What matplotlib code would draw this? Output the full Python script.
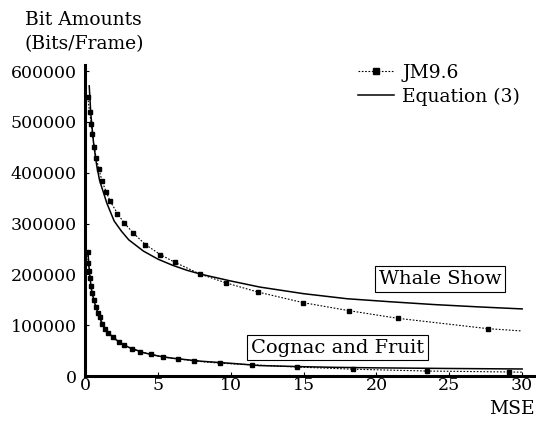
import matplotlib
matplotlib.use("Agg")
import matplotlib.pyplot as plt

# ---- data ----
whale_mse = [0.19, 0.31, 0.43, 0.51, 0.63, 0.77, 0.95, 1.18, 1.46, 1.74, 2.23, 2.69,
             3.31, 4.15, 5.18, 6.16, 7.88, 9.69, 11.84, 14.98, 18.13, 21.45, 27.67, 30.0]
whale_jm = [548600, 520300, 495500, 477000, 451400, 429100, 407500, 382900, 361600,
            343500, 319500, 301200, 281500, 258500, 238800, 223800, 200800, 183100,
            165400, 144300, 128500, 113600, 93100, 88600]

whale_eq_mse = [0.29, 0.4, 0.6, 0.8, 1.0, 1.5, 2.0, 2.5, 3.0, 4.0, 5.0, 6.0, 7.0, 8.0,
                10.0, 12.0, 15.0, 18.0, 21.0, 24.0, 27.0, 30.0]
whale_eq = [571000, 515000, 455000, 415000, 385000, 340000, 305000, 285000, 268000,
            246000, 230000, 218000, 208000, 200000, 187000, 175000, 162000, 152000,
            146000, 140500, 136000, 132000]

cognac_mse = [0.18, 0.22, 0.29, 0.36, 0.39, 0.47, 0.62, 0.77, 0.89, 1.0, 1.17, 1.39,
              1.58, 1.94, 2.32, 2.66, 3.24, 3.80, 4.50, 5.37, 6.35, 7.46, 9.25, 11.46,
              14.52, 18.36, 23.44, 29.13, 30.0]
cognac_jm = [244100, 223000, 205700, 192900, 177200, 163800, 150000, 135800, 124400,
             115600, 102000, 92500, 85000, 76800, 67700, 61400, 53100, 47800, 42900,
             37000, 33900, 29700, 25200, 22000, 17700, 13400, 9800, 7900, 7600]

cognac_eq_mse = [0.2, 0.3, 0.4, 0.5, 0.7, 1.0, 1.3, 1.6, 2.0, 2.5, 3.0, 4.0, 5.0, 6.0,
                 8.0, 10.0, 12.0, 15.0, 17.0, 20.0, 25.0, 30.0]
cognac_eq = [245000, 205000, 180000, 162000, 140000, 115000, 97000, 85000, 74000,
             64000, 56500, 46000, 39500, 35000, 29000, 25000, 20500, 18300, 17100,
             16000, 14800, 13800]

x_ticks = [0, 5, 10, 15, 20, 25, 30]
y_ticks = [0, 100000, 200000, 300000, 400000, 500000, 600000]

FONT = "DejaVu Serif"
FS_TICK = 12.5
FS = 13.5

fig = plt.figure(figsize=(5.36, 4.23), dpi=100)
ax = fig.add_axes([85 / 536, 47 / 423, 451 / 536, 311 / 423])

dot_style = dict(color="black", lw=0.8, linestyle=(0, (1.5, 1.5)), marker="s",
                 markersize=3.2, markerfacecolor="black", markeredgecolor="black")
jm_line, = ax.plot(whale_mse, whale_jm, markevery=list(range(len(whale_mse) - 1)),
                   label="JM9.6", **dot_style)
ax.plot(cognac_mse, cognac_jm, markevery=list(range(len(cognac_mse) - 1)), **dot_style)
eq_line, = ax.plot(whale_eq_mse, whale_eq, color="black", lw=1.1, label="Equation (3)")
ax.plot(cognac_eq_mse, cognac_eq, color="black", lw=1.1)

ax.set_xlim(0, 30.95)
ax.set_ylim(0, 612000)
ax.set_xticks(x_ticks)
ax.set_xticklabels([str(v) for v in x_ticks])
ax.set_yticks(y_ticks)
ax.set_yticklabels([str(v) for v in y_ticks])

for s in ["top", "right"]:
    ax.spines[s].set_visible(False)
for s in ["left", "bottom"]:
    ax.spines[s].set_linewidth(2.2)

ax.tick_params(direction="in", length=3, width=0.8, labelsize=FS_TICK)
ax.tick_params(axis="x", pad=0.5)
ax.tick_params(axis="y", pad=6)
for lab in ax.get_xticklabels() + ax.get_yticklabels():
    lab.set_fontfamily(FONT)

fig.text(25 / 536, 1 - 20 / 423, "Bit Amounts", family=FONT, fontsize=FS,
         ha="left", va="center")
fig.text(24 / 536, 1 - 44 / 423, "(Bits/Frame)", family=FONT, fontsize=FS,
         ha="left", va="center")
fig.text(535 / 536, 1 - 409 / 423, "MSE", family=FONT, fontsize=FS,
         ha="right", va="center")

box = dict(boxstyle="square,pad=0.2", facecolor="white", edgecolor="black", lw=0.8)
fig.text(440 / 536, 1 - 279 / 423, "Whale Show", family=FONT, fontsize=14,
         ha="center", va="center", bbox=box)
fig.text(337.5 / 536, 1 - 347.5 / 423, "Cognac and Fruit", family=FONT, fontsize=14,
         ha="center", va="center", bbox=box)

leg = ax.legend(handles=[jm_line, eq_line], loc="upper left",
                bbox_to_anchor=(358 / 536, 1 - 64 / 423), bbox_transform=fig.transFigure,
                frameon=False, prop={"family": FONT, "size": FS}, handlelength=1.9,
                handletextpad=0.45, labelspacing=0.3, numpoints=1, markerscale=1.4,
                borderpad=0, borderaxespad=0)

fig.savefig("out.png", dpi=100)
